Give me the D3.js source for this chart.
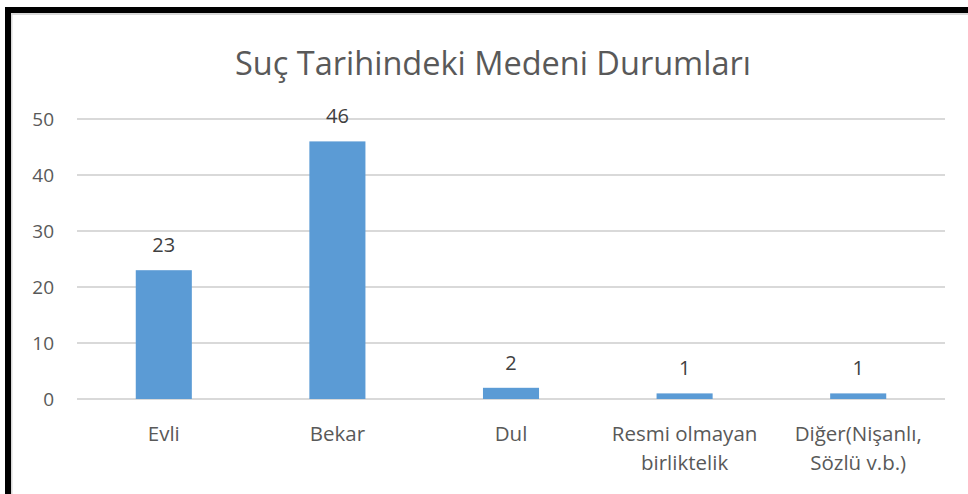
<!DOCTYPE html>
<html>
<head>
<meta charset="utf-8">
<script src="https://cdn.jsdelivr.net/npm/d3@7"></script>
<style>
  html, body { margin: 0; padding: 0; background: #fff; }
  svg { display: block; }
</style>
</head>
<body>
<div id="chart"></div>
<script>
// chart data
const categories = ["Evli", "Bekar", "Dul", "Resmi olmayan\nbirliktelik", "Diğer(Nişanlı,\nSözlü v.b.)"]
const values = [23, 46, 2, 1, 1]
const yTicks = [0, 10, 20, 30, 40, 50]
const title = "Suç Tarihindeki Medeni Durumları"

const width = 968
const height = 494
const textColor = "#595959"
const gridColor = "#d9d9d9"
const barColor = "#5b9bd5"
const font = "'Open Sans', sans-serif"

const svg = d3.select("#chart").append("svg")
    .attr("width", width)
    .attr("height", height)

// frame: black top and left edges, thin gray inner line
svg.append("rect").attr("x", 5).attr("y", 7).attr("width", width - 5).attr("height", 6).attr("fill", "#000")
svg.append("rect").attr("x", 5).attr("y", 7).attr("width", 6).attr("height", height - 7).attr("fill", "#000")
svg.append("rect").attr("x", 11).attr("y", 13).attr("width", width - 11).attr("height", 2).attr("fill", gridColor)
svg.append("rect").attr("x", 11).attr("y", 13).attr("width", 1.5).attr("height", height - 13).attr("fill", gridColor)

const x = d3.scaleBand()
    .domain(categories)
    .range([77, 945])
    .paddingInner(0.677)
    .paddingOuter(0.677 / 2)

const y = d3.scaleLinear()
    .domain([0, 50])
    .range([399, 119])

// gridlines
svg.append("g")
    .selectAll("line")
    .data(yTicks)
    .join("line")
    .attr("x1", 77)
    .attr("x2", 945)
    .attr("y1", d => y(d))
    .attr("y2", d => y(d))
    .attr("stroke", gridColor)
    .attr("stroke-width", 1.8)

// y tick labels
svg.append("g")
    .attr("font-family", font)
    .attr("font-size", 19)
    .attr("fill", textColor)
    .attr("text-anchor", "end")
    .selectAll("text")
    .data(yTicks)
    .join("text")
    .attr("x", 54)
    .attr("y", d => y(d))
    .attr("dy", "0.35em")
    .text(d => d)

// bars
svg.append("g")
    .selectAll("rect")
    .data(values)
    .join("rect")
    .attr("x", (d, i) => x(categories[i]))
    .attr("width", x.bandwidth())
    .attr("y", d => y(d))
    .attr("height", d => y(0) - y(d))
    .attr("fill", barColor)

// data labels
svg.append("g")
    .attr("font-family", font)
    .attr("font-size", 20)
    .attr("fill", "#404040")
    .attr("text-anchor", "middle")
    .selectAll("text")
    .data(values)
    .join("text")
    .attr("x", (d, i) => x(categories[i]) + x.bandwidth() / 2)
    .attr("y", d => y(d) - 18)
    .text(d => d)

// category labels
svg.append("g")
    .attr("font-family", font)
    .attr("font-size", 20.5)
    .attr("fill", textColor)
    .attr("text-anchor", "middle")
    .selectAll("text")
    .data(categories)
    .join("text")
    .attr("x", d => x(d) + x.bandwidth() / 2)
    .attr("y", 441)
    .selectAll("tspan")
    .data(d => d.split("\n"))
    .join("tspan")
    .attr("x", function () { return this.parentNode.getAttribute("x") })
    .attr("dy", (_, i) => i ? 29 : 0)
    .text(d => d)

// title
svg.append("text")
    .attr("x", 493)
    .attr("y", 75)
    .attr("text-anchor", "middle")
    .attr("font-family", font)
    .attr("font-size", 32.5)
    .attr("fill", textColor)
    .text(title)
</script>
</body>
</html>
